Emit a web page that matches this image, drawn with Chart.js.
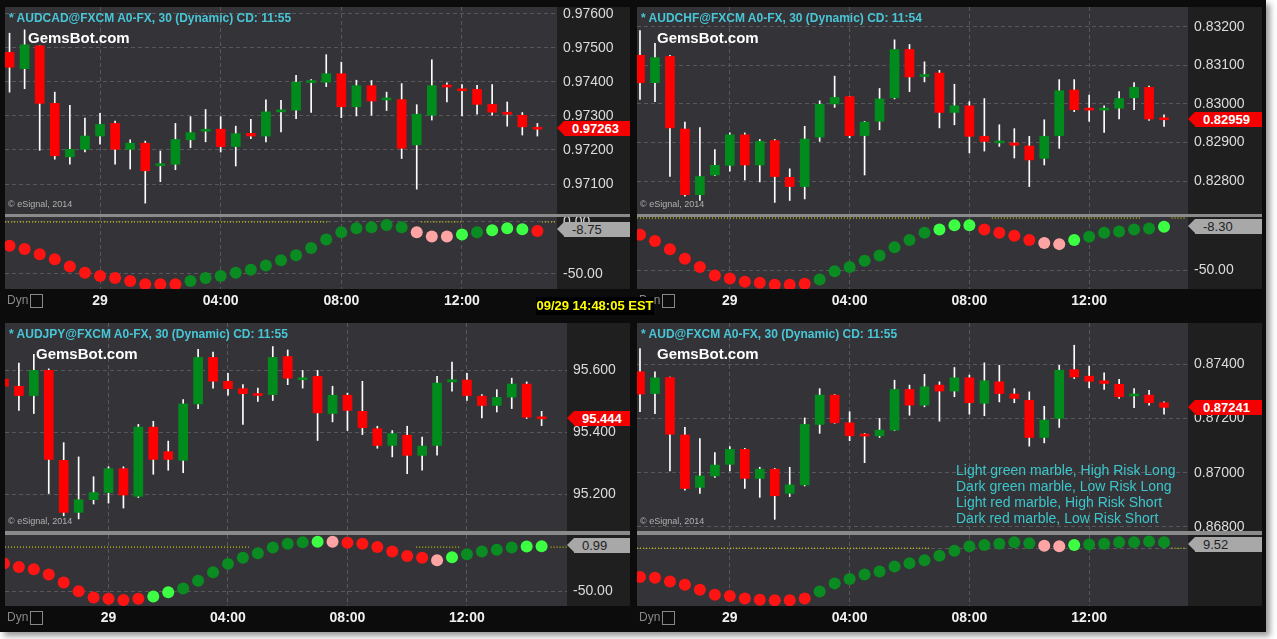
<!DOCTYPE html>
<html>
<head>
<meta charset="utf-8">
<script src="https://cdn.jsdelivr.net/npm/chart.js@4"></script>
<style>
  body { margin: 0; background: #fff; width: 1277px; height: 639px; overflow: hidden; font-family: "Liberation Sans", Arial, sans-serif; }
  #frame { position: absolute; left: 0; top: 0; width: 1266px; height: 632px; background: #0c0c0c; box-shadow: 4px 4px 6px #999; }
  .axisbg { position: absolute; background: #1f1f1f; }
  canvas { position: absolute; }
  .txt { position: absolute; white-space: nowrap; }
  .title { color: #48c6d6; font: bold 12px "Liberation Sans Narrow", "Liberation Sans", sans-serif; }
  .gems { color: #fff; font: bold 15px "Liberation Sans", sans-serif; }
  .copy { color: #b0b0b0; font: 9px "Liberation Sans", sans-serif; }
  .dyn { color: #888; font: 12px "Liberation Sans Narrow", sans-serif; }
  .dyn span { display: inline-block; border: 1px solid #888; width: 11px; height: 12px; vertical-align: middle; margin-left: 2px; }
  .plabel { position: absolute; background: #f40000; color: #fff; font: bold 13px "Liberation Sans Narrow", sans-serif; height: 15px; line-height: 15px; padding-left: 8px; }
  .plabel:before { content: ""; position: absolute; left: -7px; top: 0; border-top: 7.5px solid transparent; border-bottom: 7.5px solid transparent; border-right: 7px solid #f40000; }
  .ilabel { position: absolute; background: #a8a8a8; color: #222; font: 13px "Liberation Sans Narrow", sans-serif; height: 15px; line-height: 15px; padding-left: 8px; }
  .ilabel:before { content: ""; position: absolute; left: -7px; top: 0; border-top: 7.5px solid transparent; border-bottom: 7.5px solid transparent; border-right: 7px solid #a8a8a8; }
  #clock { position: absolute; left: 536px; top: 297px; width: 118px; height: 18px; background: #000; color: #ffff00; font: bold 13px "Liberation Sans", sans-serif; text-align: center; line-height: 18px; white-space: nowrap; }
  .legend { color: #3cc6cc; font: 14px "Liberation Sans Narrow", "Liberation Sans", sans-serif; line-height: 16px; }
</style>
</head>
<body>
<div id="frame"></div>
<script>
// candle index 6 = "29", 14 = 04:00, 22 = 08:00, 30 = 12:00
const timeTicks = [6, 14, 22, 30];
const timeLabels = ["29", "04:00", "08:00", "12:00"];

// AUDCAD
const cadO = [0.97487,0.97439,0.97506,0.97337,0.97180,0.97202,0.97241,0.97278,0.97202,0.97220,0.97154,0.97158,0.97230,0.97255,0.97261,0.97210,0.97249,0.97241,0.97312,0.97317,0.97398,0.97399,0.97424,0.97327,0.97389,0.97347,0.97348,0.97215,0.97302,0.97389,0.97378,0.97378,0.97334,0.97310,0.97302,0.97265];
const cadH = [0.97543,0.97553,0.97506,0.97370,0.97331,0.97294,0.97308,0.97285,0.97230,0.97226,0.97197,0.97278,0.97298,0.97319,0.97298,0.97270,0.97290,0.97347,0.97346,0.97419,0.97407,0.97480,0.97458,0.97405,0.97404,0.97370,0.97395,0.97333,0.97465,0.97397,0.97392,0.97390,0.97392,0.97341,0.97310,0.97278];
const cadL = [0.97370,0.97380,0.97199,0.97173,0.97158,0.97194,0.97217,0.97158,0.97144,0.97044,0.97107,0.97142,0.97207,0.97224,0.97194,0.97153,0.97233,0.97224,0.97253,0.97292,0.97310,0.97386,0.97295,0.97300,0.97302,0.97316,0.97175,0.97085,0.97288,0.97341,0.97300,0.97305,0.97302,0.97270,0.97244,0.97241];
const cadC = [0.97443,0.97509,0.97337,0.97183,0.97202,0.97241,0.97275,0.97202,0.97220,0.97139,0.97158,0.97231,0.97251,0.97260,0.97210,0.97248,0.97241,0.97312,0.97316,0.97399,0.97402,0.97424,0.97327,0.97389,0.97344,0.97351,0.97205,0.97305,0.97389,0.97385,0.97374,0.97334,0.97311,0.97305,0.97268,0.97261];
const cadInd = [-23,-26,-31,-36,-43,-49,-52,-54,-57,-60,-60,-60,-57,-54,-52,-49,-46,-42,-37,-32,-25,-17,-10,-6,-5,-3,-5,-10,-14,-14,-12,-10,-8,-6,-7,-8.75];
const cadMarble = "RRRRRRRRRRRRGGGGGGGGGGGGGGGPPPgGgggR";
const cadZero = [[-0.3, 21.2], [27.3, 30.1], [35.3, 36.2]];

// AUDCHF
const chfO = [0.83126,0.83055,0.83123,0.82935,0.82765,0.82816,0.82841,0.82920,0.82842,0.82905,0.82810,0.82786,0.82914,0.83000,0.83019,0.82918,0.82955,0.83016,0.83141,0.83071,0.83080,0.82978,0.82995,0.82916,0.82899,0.82899,0.82891,0.82859,0.82918,0.83036,0.82988,0.82984,0.82989,0.83016,0.83043,0.82961];
const chfH = [0.83190,0.83157,0.83126,0.82953,0.82939,0.82882,0.82925,0.82925,0.82908,0.82908,0.82832,0.82942,0.83008,0.83072,0.83020,0.82955,0.83040,0.83166,0.83154,0.83109,0.83087,0.83051,0.83006,0.83014,0.82946,0.82936,0.82916,0.82959,0.83063,0.83063,0.83023,0.82995,0.83032,0.83055,0.83046,0.82972];
const chfL = [0.83012,0.83006,0.82812,0.82761,0.82750,0.82814,0.82826,0.82803,0.82798,0.82745,0.82750,0.82754,0.82903,0.82991,0.82912,0.82816,0.82933,0.83013,0.83032,0.83057,0.82938,0.82946,0.82873,0.82878,0.82890,0.82860,0.82786,0.82842,0.82885,0.82980,0.82955,0.82926,0.82961,0.82985,0.82957,0.82942];
const chfC = [0.83055,0.83120,0.82938,0.82765,0.82812,0.82841,0.82920,0.82842,0.82903,0.82812,0.82786,0.82909,0.82999,0.83017,0.82918,0.82953,0.83013,0.83141,0.83070,0.83076,0.82978,0.82995,0.82916,0.82903,0.82903,0.82893,0.82855,0.82916,0.83034,0.82985,0.82984,0.82988,0.83014,0.83043,0.82961,0.82959];
const chfInd = [-16,-22,-30,-39,-47,-55,-58,-61,-62,-64,-64,-63,-59,-51,-47,-41,-36,-28,-21,-14,-11,-7,-7,-11,-14,-17,-21,-24,-25,-21,-18,-14,-13,-11,-10,-8.3];
const chfMarble = "RRRRRRRRRRRRGGGGGGGGgggRRRRPPgGGGGGg";
const chfZero = [[-0.2, 19.4], [23.5, 33.4], [35.5, 36.4]];

// AUDJPY (starts one candle earlier, index -1)
const jpyO = [95.572,95.549,95.519,95.600,95.310,95.142,95.183,95.206,95.283,95.194,95.417,95.338,95.310,95.492,95.642,95.565,95.541,95.524,95.522,95.645,95.570,95.581,95.461,95.520,95.468,95.412,95.358,95.391,95.326,95.358,95.563,95.569,95.517,95.487,95.514,95.556,95.448];
const jpyH = [95.578,95.624,95.652,95.605,95.367,95.321,95.257,95.289,95.289,95.426,95.436,95.372,95.506,95.668,95.659,95.591,95.554,95.543,95.677,95.666,95.600,95.600,95.549,95.527,95.565,95.420,95.406,95.420,95.385,95.581,95.627,95.591,95.522,95.538,95.575,95.563,95.468];
const jpyL = [95.538,95.471,95.461,95.203,95.131,95.121,95.169,95.172,95.156,95.190,95.265,95.278,95.270,95.477,95.543,95.520,95.426,95.500,95.503,95.554,95.543,95.374,95.434,95.406,95.393,95.349,95.321,95.267,95.278,95.327,95.533,95.503,95.447,95.466,95.477,95.445,95.422];
const jpyC = [95.549,95.519,95.600,95.313,95.142,95.183,95.206,95.283,95.198,95.417,95.313,95.313,95.492,95.642,95.565,95.541,95.525,95.519,95.642,95.575,95.574,95.463,95.520,95.471,95.415,95.358,95.396,95.326,95.356,95.559,95.570,95.519,95.487,95.513,95.556,95.449,95.444];
const jpyInd = [-18.5,-22.6,-25,-31,-40,-50,-57,-58.5,-60,-58.5,-56,-51,-47,-38,-28.5,-19,-12,-7,-0.4,3.7,5.5,6,6,5,3.7,0,-5,-10,-12,-15,-11.5,-8,-5,-3,-0.4,0.7,0.99];
const jpyMarble = "RRRRRRRRRRggGGGGGGGGGgPRRRRRRPgGGGGgg";
const jpyZero = [[-0.93, 15.4], [26.6, 29.5], [35.6, 36.7]];

// AUD
const audO = [0.87372,0.87292,0.87351,0.87139,0.86946,0.86988,0.87031,0.87086,0.86979,0.87013,0.86924,0.86955,0.87178,0.87286,0.87184,0.87142,0.87136,0.87157,0.87307,0.87249,0.87323,0.87301,0.87350,0.87256,0.87335,0.87290,0.87267,0.87130,0.87200,0.87380,0.87356,0.87339,0.87326,0.87283,0.87286,0.87258];
const audH = [0.87458,0.87372,0.87353,0.87167,0.87126,0.87074,0.87096,0.87090,0.87020,0.87016,0.87020,0.87202,0.87310,0.87288,0.87225,0.87145,0.87200,0.87341,0.87323,0.87363,0.87335,0.87388,0.87360,0.87405,0.87396,0.87310,0.87298,0.87245,0.87396,0.87470,0.87393,0.87368,0.87344,0.87310,0.87304,0.87261];
const audL = [0.87225,0.87218,0.87007,0.86936,0.86924,0.86983,0.87007,0.86942,0.86909,0.86828,0.86912,0.86951,0.87145,0.87182,0.87118,0.87037,0.87130,0.87155,0.87212,0.87243,0.87190,0.87280,0.87216,0.87210,0.87261,0.87258,0.87098,0.87110,0.87167,0.87347,0.87313,0.87307,0.87274,0.87240,0.87249,0.87216];
const audC = [0.87290,0.87350,0.87142,0.86942,0.86988,0.87028,0.87086,0.86979,0.87013,0.86915,0.86955,0.87178,0.87286,0.87184,0.87136,0.87135,0.87157,0.87307,0.87249,0.87317,0.87301,0.87350,0.87258,0.87339,0.87292,0.87274,0.87130,0.87194,0.87378,0.87353,0.87337,0.87329,0.87280,0.87287,0.87258,0.87241];
const audInd = [-46,-47,-53,-58,-66,-74,-76,-80,-82,-83,-83,-80,-69,-56,-49,-42,-37,-29,-24,-19,-12,-4,3,5,7,9.5,8,4,3,5,6,7,9.5,9.5,10.5,9.52];
const audMarble = "RRRRRRRRRRRRGGGGGGGGGGGGGGGPPgGGGGGG";
const audZero = [[-0.2, 19.4], [35.5, 36.4]];

const legendLines = [
  "Light green marble, High Risk Long",
  "Dark green marble, Low Risk Long",
  "Light red marble, High Risk Short",
  "Dark red marble, Low Risk Short",
];

const marbleColors = { R: "#ff1414", G: "#0a8c22", g: "#3cff44", P: "#ffa4a4" };

const plotBg = {
  id: "plotBg",
  beforeDraw(chart) {
    const a = chart.chartArea;
    chart.ctx.save();
    chart.ctx.fillStyle = "#343438";
    chart.ctx.fillRect(a.left, a.top, a.right - a.left, a.bottom - a.top);
    chart.ctx.restore();
  },
};

const frame = document.getElementById("frame");

function addEl(cls, left, top, html, extra) {
  const d = document.createElement("div");
  d.className = cls;
  d.style.left = left + "px";
  d.style.top = top + "px";
  d.innerHTML = html;
  if (extra) Object.assign(d.style, extra);
  frame.appendChild(d);
  return d;
}

function addCanvas(left, top, w, h) {
  const c = document.createElement("canvas");
  c.width = w;
  c.height = h;
  c.style.left = left + "px";
  c.style.top = top + "px";
  c.style.width = w + "px";
  c.style.height = h + "px";
  frame.appendChild(c);
  return c;
}

const gridDash = { color: "#58585c", lineWidth: 1 };
const axisFont = { family: "Liberation Sans Narrow, Liberation Sans", size: 14 };

function yAxis(min, max, ticks, width, fmt) {
  return {
    position: "right", min: min, max: max,
    afterBuildTicks: (s) => { s.ticks = ticks.map((v) => ({ value: v })); },
    afterFit: (s) => { s.width = width; s.paddingTop = 0; s.paddingBottom = 0; },
    ticks: { color: "#dcdcdc", padding: 6, font: axisFont, callback: fmt },
    grid: { ...gridDash, drawTicks: false },
    border: { display: false, dash: [4, 3] },
  };
}

function xAxis(min, max, height, showLabels) {
  return {
    type: "linear", min: min, max: max, offset: false,
    afterBuildTicks: (s) => { s.ticks = timeTicks.map((v) => ({ value: v })); },
    afterFit: (s) => { s.height = height; s.paddingLeft = 0; s.paddingRight = 0; },
    ticks: {
      display: showLabels, color: "#f0f0f0", padding: 4,
      font: { ...axisFont, weight: "bold" },
      callback: (v) => timeLabels[timeTicks.indexOf(v)],
    },
    grid: { ...gridDash, drawTicks: false, offset: false },
    border: { display: false, dash: [4, 3] },
  };
}

function makePanel(p) {
  const plotW = p.right - p.left;
  const ab = addEl("axisbg", p.right, p.top, "");
  ab.style.width = p.axisW + "px";
  ab.style.height = (p.indBottom - p.top) + "px";

  const xs = p.open.map((v, i) => i + p.first);
  const bodies = xs.map((x, i) => ({ x: x, y: [p.open[i], p.close[i]] }));
  const wicks = xs.map((x, i) => ({ x: x, y: [p.low[i], p.high[i]] }));
  const bodyColors = p.open.map((o, i) => (p.close[i] >= o ? "#008c1c" : "#ff0000"));

  const priceH = p.priceBottom - p.top;
  new Chart(addCanvas(p.left, p.top, plotW + p.axisW, priceH), {
    type: "bar",
    data: {
      datasets: [
        { data: bodies, backgroundColor: bodyColors, barThickness: 9, minBarLength: 2, grouped: false },
        { data: wicks, backgroundColor: "#ffffff", barThickness: 1, grouped: false },
      ],
    },
    options: {
      responsive: false,
      animation: false,
      devicePixelRatio: 1,
      layout: { padding: 0, autoPadding: false },
      plugins: { legend: { display: false }, tooltip: { enabled: false } },
      scales: {
        x: xAxis(p.xmin, p.xmax, 0, false),
        y: yAxis(p.ymin, p.ymax, p.yticks, p.axisW, (v) => v.toFixed(p.dec)),
      },
    },
    plugins: [plotBg],
  });

  const zeroLine = [];
  p.zero.forEach((seg) => { zeroLine.push({ x: seg[0], y: 0 }, { x: seg[1], y: 0 }, { x: seg[1], y: null }); });
  const indH = p.indBottom - p.indTop;
  new Chart(addCanvas(p.left, p.indTop, plotW + p.axisW, indH + 24), {
    type: "scatter",
    data: {
      datasets: [
        {
          data: p.ind.map((v, i) => ({ x: i + p.first, y: v })),
          pointBackgroundColor: p.marble.split("").map((m) => marbleColors[m]),
          pointBorderWidth: 0, pointRadius: 6,
        },
        {
          type: "line", data: zeroLine, borderColor: "#e8e800", borderWidth: 1,
          borderDash: [1, 2], pointRadius: 0, spanGaps: false,
        },
      ],
    },
    options: {
      responsive: false,
      animation: false,
      devicePixelRatio: 1,
      layout: { padding: 0, autoPadding: false },
      plugins: { legend: { display: false }, tooltip: { enabled: false } },
      scales: {
        x: xAxis(p.xmin, p.xmax, 24, true),
        y: yAxis(p.imin, p.imax, p.iticks, p.axisW, (v) => v.toFixed(2)),
      },
    },
    plugins: [plotBg],
  });

  const sep = addEl("axisbg", p.left, p.priceBottom, "");
  sep.style.width = (plotW + p.axisW) + "px";
  sep.style.height = (p.indTop - p.priceBottom) + "px";
  sep.style.background = "#8a8a8a";

  addEl("txt title", p.left + 4, p.top + 4, p.title);
  addEl("txt gems", p.left + p.gemsX, p.top + 22, "GemsBot.com");
  addEl("txt copy", p.left + 3, p.priceBottom - 15, "© eSignal, 2014");
  addEl("txt dyn", p.left + 2, p.indBottom + 4, "Dyn<span></span>");
  addEl("plabel", p.right + 7, p.pLabelY, p.last, { width: (p.axisW - 15) + "px" });
  addEl("ilabel", p.right + 7, p.iLabelY, p.indLast, { width: (p.axisW - 15) + "px" });
}

makePanel({
  left: 5, right: 557, axisW: 73, top: 7, priceBottom: 214, indTop: 217, indBottom: 289,
  first: 0, xmin: -0.3, xmax: 36.3,
  open: cadO, high: cadH, low: cadL, close: cadC,
  ymin: 0.97012, ymax: 0.97620, yticks: [0.971, 0.972, 0.973, 0.974, 0.975, 0.976], dec: 5,
  ind: cadInd, marble: cadMarble, zero: cadZero, imin: -64.6, imax: 4.8, iticks: [0, -50],
  title: "* AUDCAD@FXCM A0-FX, 30 (Dynamic) CD: 11:55", gemsX: 23,
  last: "0.97263", pLabelY: 121, indLast: "-8.75", iLabelY: 222,
});
makePanel({
  left: 637, right: 1188, axisW: 74, top: 7, priceBottom: 214, indTop: 217, indBottom: 289,
  first: 0, xmin: -0.2, xmax: 36.6,
  open: chfO, high: chfH, low: chfL, close: chfC,
  ymin: 0.82715, ymax: 0.83251, yticks: [0.828, 0.829, 0.830, 0.831, 0.832], dec: 5,
  ind: chfInd, marble: chfMarble, zero: chfZero, imin: -68, imax: 1, iticks: [-50],
  title: "* AUDCHF@FXCM A0-FX, 30 (Dynamic) CD: 11:54", gemsX: 20,
  last: "0.82959", pLabelY: 112, indLast: "-8.30", iLabelY: 219,
});
makePanel({
  left: 5, right: 567, axisW: 63, top: 323, priceBottom: 531, indTop: 535, indBottom: 606,
  first: -1, xmin: -0.93, xmax: 36.7,
  open: jpyO, high: jpyH, low: jpyL, close: jpyC,
  ymin: 95.082, ymax: 95.753, yticks: [95.2, 95.4, 95.6], dec: 3,
  ind: jpyInd, marble: jpyMarble, zero: jpyZero, imin: -66.7, imax: 13.7, iticks: [-50],
  title: "* AUDJPY@FXCM A0-FX, 30 (Dynamic) CD: 11:55", gemsX: 31,
  last: "95.444", pLabelY: 411, indLast: "0.99", iLabelY: 538,
});
makePanel({
  left: 637, right: 1188, axisW: 74, top: 323, priceBottom: 531, indTop: 535, indBottom: 606,
  first: 0, xmin: -0.2, xmax: 36.6,
  open: audO, high: audH, low: audL, close: audC,
  ymin: 0.86785, ymax: 0.87552, yticks: [0.868, 0.870, 0.872, 0.874], dec: 5,
  ind: audInd, marble: audMarble, zero: audZero, imin: -92, imax: 21, iticks: [0],
  title: "* AUD@FXCM A0-FX, 30 (Dynamic) CD: 11:55", gemsX: 20,
  last: "0.87241", pLabelY: 400, indLast: "9.52", iLabelY: 537,
});

addEl("txt legend", 956, 462, legendLines.join("<br>"));
const clock = document.createElement("div");
clock.id = "clock";
clock.textContent = "09/29 14:48:05 EST";
frame.appendChild(clock);
</script>
</body>
</html>
